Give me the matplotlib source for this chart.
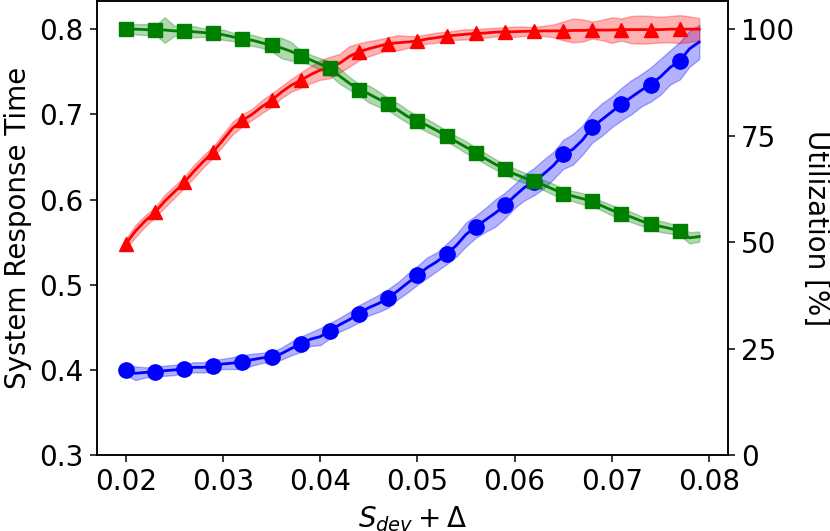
import matplotlib
matplotlib.use('Agg')
import matplotlib.pyplot as plt
import numpy as np

# x grid: 0.020 .. 0.079, markers every third point
x = [round(0.020 + 0.001 * i, 3) for i in range(60)]

# system response time (left axis)
resp = [0.400, 0.396, 0.397, 0.398, 0.399, 0.400, 0.401, 0.403, 0.403, 0.405,
        0.407, 0.408, 0.409, 0.412, 0.414, 0.415, 0.419, 0.425, 0.430, 0.436,
        0.439, 0.446, 0.453, 0.459, 0.466, 0.473, 0.478, 0.484, 0.493, 0.502,
        0.511, 0.520, 0.527, 0.536, 0.546, 0.559, 0.568, 0.576, 0.584, 0.593,
        0.604, 0.614, 0.621, 0.630, 0.640, 0.653, 0.659, 0.670, 0.685, 0.694,
        0.703, 0.712, 0.720, 0.728, 0.735, 0.744, 0.755, 0.763, 0.777, 0.785]
resp_err = [0.006, 0.008, 0.006, 0.005, 0.006, 0.006, 0.005, 0.006, 0.006, 0.007,
            0.006, 0.007, 0.008, 0.007, 0.006, 0.006, 0.007, 0.008, 0.009, 0.008,
            0.010, 0.009, 0.008, 0.009, 0.010, 0.009, 0.010, 0.011, 0.010, 0.011,
            0.011, 0.012, 0.011, 0.012, 0.013, 0.014, 0.013, 0.014, 0.016, 0.015,
            0.014, 0.015, 0.016, 0.017, 0.016, 0.017, 0.018, 0.017, 0.018, 0.019,
            0.018, 0.019, 0.020, 0.019, 0.020, 0.021, 0.020, 0.022, 0.021, 0.020]

# utilization [%] (right axis)
util_red = [49.6, 52.6, 55.0, 57.0, 59.6, 61.8, 64.0, 66.6, 69.0, 71.2,
            74.0, 76.8, 78.6, 80.0, 81.8, 83.3, 85.2, 86.8, 88.0, 89.3,
            90.4, 91.0, 92.0, 93.6, 94.7, 95.4, 96.0, 96.6, 96.8, 97.0,
            97.2, 97.7, 98.0, 98.4, 98.6, 98.8, 99.0, 99.1, 99.3, 99.4,
            99.4, 99.5, 99.5, 99.6, 99.6, 99.6, 99.7, 99.7, 99.8, 99.8,
            99.8, 99.9, 99.9, 99.9, 99.9, 99.9, 100.0, 100.0, 100.0, 100.0]
util_red_err = [1.2, 1.4, 1.3, 1.2, 1.5, 1.4, 1.3, 1.5, 1.4, 1.3,
                1.4, 1.5, 1.4, 1.3, 1.5, 1.6, 1.4, 1.5, 1.8, 2.0,
                2.3, 2.5, 2.2, 2.4, 2.0, 1.8, 1.6, 1.5, 1.8, 1.4,
                1.2, 1.1, 1.2, 1.0, 1.1, 1.2, 1.0, 1.1, 1.0, 1.1,
                1.2, 1.1, 1.0, 1.2, 1.5, 2.2, 2.8, 2.6, 2.0, 2.4,
                3.0, 2.6, 3.2, 3.3, 3.2, 3.0, 3.1, 3.3, 3.0, 2.6]
util_green = [100.0, 100.0, 99.9, 99.8, 99.8, 99.6, 99.5, 99.4, 99.2, 99.0,
              98.7, 98.2, 97.7, 97.4, 96.8, 96.2, 95.6, 94.8, 93.7, 92.8,
              91.8, 90.8, 89.0, 87.3, 85.8, 84.8, 83.6, 82.4, 81.0, 79.5,
              78.4, 77.4, 76.2, 74.9, 73.6, 72.3, 71.0, 69.6, 68.3, 67.1,
              66.0, 65.1, 64.4, 63.4, 62.4, 61.4, 60.8, 60.2, 59.6, 58.5,
              57.5, 56.6, 55.9, 55.0, 54.2, 53.7, 53.2, 52.7, 51.0, 51.3]
util_green_err = [1.0, 1.2, 1.3, 1.0, 3.0, 1.2, 1.1, 1.3, 1.0, 1.1,
                  1.2, 1.0, 1.1, 1.3, 1.2, 1.4, 2.4, 2.2, 1.3, 1.2,
                  1.4, 1.6, 1.8, 1.5, 1.3, 2.0, 1.8, 1.4, 1.6, 1.5,
                  1.3, 1.5, 1.4, 1.2, 1.3, 1.4, 1.2, 1.3, 1.2, 1.1,
                  1.3, 1.2, 1.1, 1.2, 1.3, 1.1, 1.2, 1.3, 1.2, 1.1,
                  1.2, 1.3, 1.2, 1.1, 1.2, 1.3, 1.2, 1.1, 1.3, 1.2]

plt.rcParams['font.size'] = 20
plt.rcParams['axes.linewidth'] = 1.1
for a in ['xtick', 'ytick']:
    plt.rcParams[a + '.major.size'] = 4.8
    plt.rcParams[a + '.major.width'] = 1.1
    plt.rcParams[a + '.major.pad'] = 4.8
plt.rcParams['axes.labelpad'] = 5.5

fig = plt.figure(figsize=(8.3, 5.31), dpi=100)
ax = fig.add_axes([0.117, 0.143, 0.76, 0.855])
ax2 = ax.twinx()

x = np.array(x)
resp = np.array(resp); resp_err = np.array(resp_err)
ax.fill_between(x, resp - resp_err, resp + resp_err, color='b', alpha=0.3)
ax.plot(x, resp, color='b', lw=2, marker='o', markersize=11, markevery=3)

for vals, err, c, m in [(util_red, util_red_err, 'r', '^'),
                        (util_green, util_green_err, 'g', 's')]:
    vals = np.array(vals); err = np.array(err)
    ax2.fill_between(x, vals - err, vals + err, color=c, alpha=0.3)
    ax2.plot(x, vals, color=c, lw=2, marker=m, markersize=10.5, markevery=3)

ax.set_xlim(0.01705, 0.08195)
ax.set_ylim(0.3, 0.833)
ax2.set_ylim(0, 106.6)
ax.set_xticks([0.02, 0.03, 0.04, 0.05, 0.06, 0.07, 0.08])
ax.set_yticks([0.3, 0.4, 0.5, 0.6, 0.7, 0.8])
ax2.set_yticks([0, 25, 50, 75, 100])
ax.set_xlabel(r'$S_{dev} + \Delta$')
ax.set_ylabel('System Response Time')
ax2.set_ylabel('Utilization [%]', rotation=270, labelpad=26)

fig.savefig('out.png', dpi=100)
